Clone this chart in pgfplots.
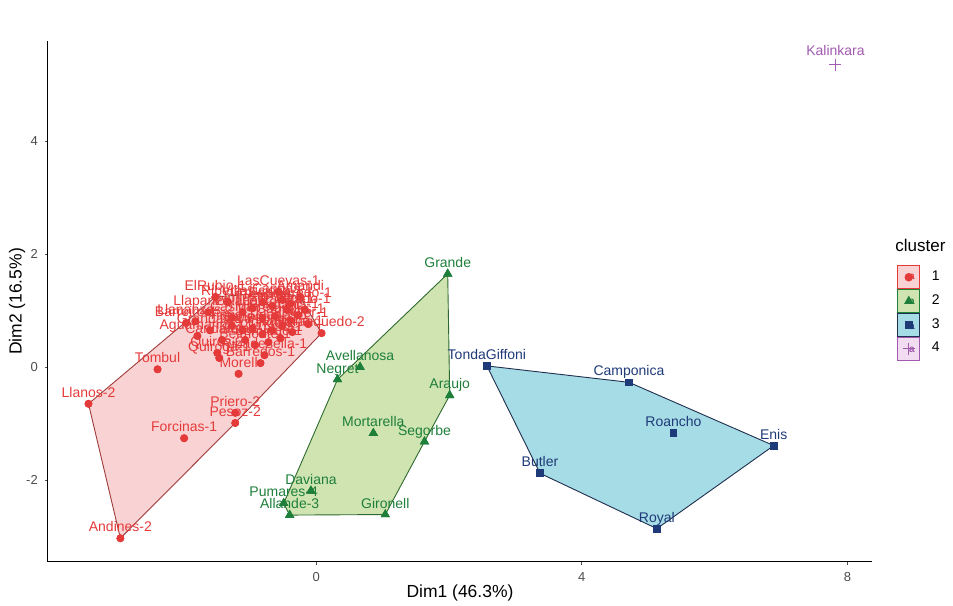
\documentclass[border=0pt]{standalone}
\usepackage{pgfplots}
\pgfplotsset{compat=1.18}
\usepackage{pgfplotstable}
\usepackage{fontspec}
\setmainfont{Liberation Sans}
\definecolor{c1}{HTML}{E53A3A}
\definecolor{f1}{HTML}{F9D3D3}
\definecolor{l1}{HTML}{9E3B3B}
\definecolor{c2}{HTML}{1E7F3A}
\definecolor{f2}{HTML}{CFE4B1}
\definecolor{l2}{HTML}{2F6B2F}
\definecolor{c3}{HTML}{1F3A78}
\definecolor{f3}{HTML}{A6DCE6}
\definecolor{l3}{HTML}{1F2F4F}
\definecolor{c4}{HTML}{A05AAE}
\definecolor{f4}{HTML}{F2DCF2}
\definecolor{tickgray}{HTML}{4D4D4D}

\pgfplotstableread{
x y label
-3.43 -0.65 Llanos-2
-2.95 -3.03 Andines-2
-2.39 -0.04 Tombul
-1.99 -1.26 Forcinas-1
-1.22 -0.81 Priero-2
-1.22 -0.99 Pesoz-2
-1.17 -0.12 Morell
-0.84 0.07 Barredos-1
0.08 0.60 Taranquedo-2
-0.57 1.33 LasCuevas-1
-1.52 1.24 ElRubio-1
-1.33 1.15 Ribera-1
-1.63 0.97 Llapanzo-1
-1.82 0.81 Llananzas-2
-1.96 0.78 Barreiro-1
-1.79 0.55 Aguamarina
-1.49 0.25 Quiros-2
-1.46 0.16 Quiroga-1
-0.24 1.24 Amandi
-0.39 1.12 Espinaredo-1
-0.17 1.01 Grado-1
-1.27 0.87 Casina
-1.11 0.97 Pelada-1
-0.96 1.04 Infiesto-1
-0.81 1.15 Villaviciosa-1
-0.66 1.08 Teverga-1
-0.51 1.19 Cangas-1
-0.27 0.92 Onis-1
-0.39 0.83 Cabrales-1
-0.51 0.73 Llanes-1
-0.66 0.65 Pilona-1
-0.81 0.58 Colunga-1
-0.96 0.69 Sariego-1
-1.11 0.65 Nava-1
-1.27 0.73 Tineo-1
-1.07 0.48 Salas-1
-0.92 0.39 Belmonte-1
-0.72 0.44 Somiedo-1
-0.54 0.51 Caso-1
-0.36 0.62 Laviana-1
-0.12 0.76 Aller-1
-0.81 0.87 Mieres-1
-0.62 0.90 Ponga-1
-0.44 1.01 Parres-1
-0.78 0.21 Ribadesella-1
-1.42 0.48 Candamo-1
-1.60 0.65 Grandas-1
}\clusterone

\pgfplotstableread{
x y label
1.98 1.65 Grande
0.66 0.00 Avellanosa
0.32 -0.22 Negret
2.01 -0.50 Araujo
0.86 -1.17 Mortarella
1.63 -1.32 Segorbe
-0.08 -2.19 Daviana
-0.49 -2.41 Pumares-4
-0.40 -2.62 Allande-3
1.04 -2.61 Gironell
}\clustertwo

\pgfplotstableread{
x y label
2.57 0.02 TondaGiffoni
4.71 -0.27 Camponica
5.38 -1.17 Roancho
6.89 -1.39 Enis
3.37 -1.88 Butler
5.13 -2.86 Royal
}\clusterthree

\pgfplotstableread{
x y label
7.82 5.35 Kalinkara
}\clusterfour

\begin{document}
\begin{tikzpicture}
\useasboundingbox (0,0) rectangle (476.5pt,302.5pt);
\begin{axis}[
  at={(24pt,21.5pt)}, anchor=south west,
  scale only axis, width=412pt, height=260.5pt,
  xmin=-4.04, xmax=8.37, ymin=-3.45, ymax=5.77,
  axis lines=left, axis line style={-, black, line width=0.5pt},
  xtick={0,4,8}, ytick={-2,0,2,4},
  tick align=outside, major tick length=1.6pt,
  tick style={tickgray, line width=0.5pt},
  ticklabel style={font=\fontsize{6.5}{7}\selectfont, text=tickgray},
  /pgf/number format/assume math mode=true,
  xlabel={Dim1 (46.3\%)}, ylabel={Dim2 (16.5\%)},
  label style={font=\fontsize{8.75}{10}\selectfont},
  xlabel style={at={(axis description cs:0.5,-0.0595)}, anchor=center},
  ylabel style={at={(axis description cs:-0.0376,0.5)}, anchor=center},
  clip=false,
  legend style={at={(axis description cs:1.0303,0.5701)}, anchor=north west,
    draw=none, fill=none, font=\fontsize{7}{8}\selectfont,
    inner sep=0pt, row sep=0pt, nodes={inner sep=0.4pt}},
  legend cell align=left,
]
% hulls
\addplot[forget plot, fill=f1, draw=l1, line width=0.45pt] coordinates {(-3.43,-0.65) (-1.52,1.24) (-0.57,1.33) (-0.24,1.24) (0.08,0.60) (-1.22,-0.99) (-2.95,-3.03) (-3.43,-0.65)};
\addplot[forget plot, fill=f2, draw=l2, line width=0.45pt] coordinates {(1.98,1.65) (2.01,-0.50) (1.63,-1.32) (1.04,-2.61) (-0.40,-2.62) (-0.49,-2.41) (0.32,-0.22) (1.98,1.65)};
\addplot[forget plot, fill=f3, draw=l3, line width=0.45pt] coordinates {(2.57,0.02) (4.71,-0.27) (6.89,-1.39) (5.13,-2.86) (3.37,-1.88) (2.57,0.02)};
% points
\addplot[forget plot, only marks, mark=*, mark size=1.75pt, color=c1] table[x=x,y=y] {\clusterone};
\addplot[forget plot, only marks, mark=triangle*, mark size=2.3pt, color=c2] table[x=x,y=y] {\clustertwo};
\addplot[forget plot, only marks, mark=square*, mark size=1.7pt, color=c3] table[x=x,y=y] {\clusterthree};
\addplot[forget plot, only marks, mark=+, mark size=3pt, line width=0.6pt, color=c4] table[x=x,y=y] {\clusterfour};
% labels
\addplot[forget plot, only marks, mark=*, mark size=1.75pt, color=c1,
  nodes near coords, point meta=explicit symbolic,
  every node near coord/.append style={font=\fontsize{7}{8}\selectfont, text=c1, anchor=base, yshift=3.2pt, inner sep=0pt}]
  table[x=x,y=y,meta=label] {\clusterone};
\addplot[forget plot, only marks, mark=triangle*, mark size=2.3pt, color=c2,
  nodes near coords, point meta=explicit symbolic,
  every node near coord/.append style={font=\fontsize{7}{8}\selectfont, text=c2, anchor=base, yshift=3.2pt, inner sep=0pt}]
  table[x=x,y=y,meta=label] {\clustertwo};
\addplot[forget plot, only marks, mark=square*, mark size=1.7pt, color=c3,
  nodes near coords, point meta=explicit symbolic,
  every node near coord/.append style={font=\fontsize{7}{8}\selectfont, text=c3, anchor=base, yshift=3.2pt, inner sep=0pt}]
  table[x=x,y=y,meta=label] {\clusterthree};
\addplot[forget plot, only marks, mark=+, mark size=3pt, line width=0.6pt, color=c4,
  nodes near coords, point meta=explicit symbolic,
  every node near coord/.append style={font=\fontsize{7}{8}\selectfont, text=c4, anchor=base, yshift=4.5pt, inner sep=0pt}]
  table[x=x,y=y,meta=label] {\clusterfour};
% legend
\addlegendimage{legend image code/.code={
  \draw[fill=f1, draw=c1, line width=0.4pt] (0pt,-5.75pt) rectangle (11pt,5.75pt);
  \fill[c1] (5.5pt,0pt) circle (1.9pt);
  \node[text=c1, font=\fontsize{5}{5}\selectfont\bfseries, inner sep=0pt] at (5.5pt,-0.6pt) {a};
}}
\addlegendentry{\hspace{5.5pt}1}
\addlegendimage{legend image code/.code={
  \draw[fill=f2, draw=c2, line width=0.4pt] (0pt,-5.75pt) rectangle (11pt,5.75pt);
  \fill[c2] (5.5pt,2.3pt) -- (3.5pt,-1.2pt) -- (7.5pt,-1.2pt) -- cycle;
  \node[text=c2, font=\fontsize{5}{5}\selectfont\bfseries, inner sep=0pt] at (5.5pt,-1.2pt) {a};
}}
\addlegendentry{\hspace{5.5pt}2}
\addlegendimage{legend image code/.code={
  \draw[fill=f3, draw=l3, line width=0.4pt] (0pt,-5.75pt) rectangle (11pt,5.75pt);
  \fill[c3] (3.8pt,-1.7pt) rectangle (7.2pt,1.7pt);
  \node[text=c3, font=\fontsize{5}{5}\selectfont\bfseries, inner sep=0pt] at (5.5pt,-1.6pt) {a};
}}
\addlegendentry{\hspace{5.5pt}3}
\addlegendimage{legend image code/.code={
  \draw[fill=f4, draw=c4, line width=0.4pt] (0pt,-5.75pt) rectangle (11pt,5.75pt);
  \draw[c4, line width=0.6pt] (2.5pt,0pt) -- (8.5pt,0pt) (5.5pt,-3pt) -- (5.5pt,3pt);
  \node[text=c4, font=\fontsize{5}{5}\selectfont\bfseries, inner sep=0pt] at (5.5pt,-1.4pt) {a};
}}
\addlegendentry{\hspace{5.5pt}4}
\node[anchor=west, font=\fontsize{8.5}{10}\selectfont, inner sep=0pt] at (axis description cs:1.0279,0.608) {cluster};
\end{axis}
\end{tikzpicture}
\end{document}
